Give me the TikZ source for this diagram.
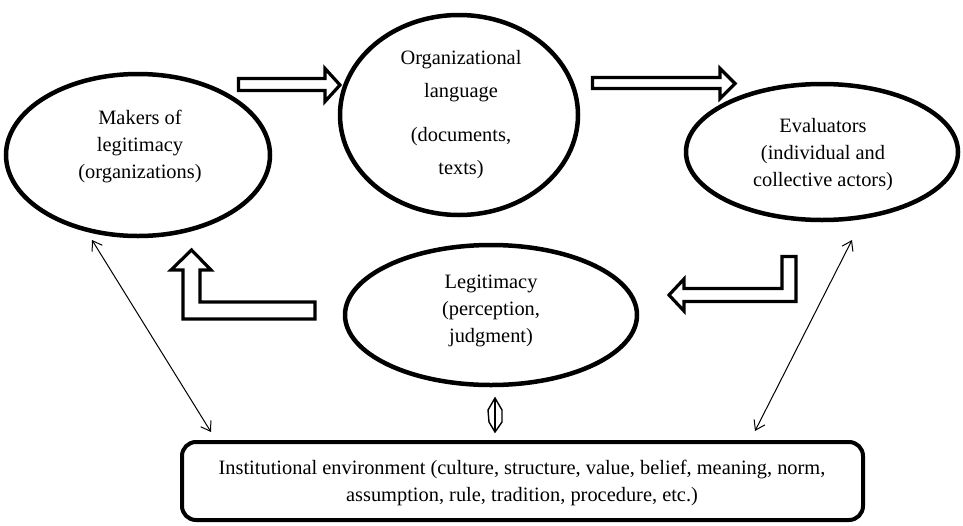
\documentclass[tikz,border=0pt]{standalone}
\usepackage{fontspec}
\setmainfont{Liberation Serif}
\usetikzlibrary{shapes.geometric,arrows.meta}
\begin{document}
\begin{tikzpicture}[x=1pt,y=-1pt,
  ell/.style={draw,ellipse,line width=4.5pt,inner sep=0pt},
  txt/.style={align=center,font=\fontsize{20.4}{27}\selectfont,inner sep=0pt},
  blockarrow/.style={draw,line width=3.2pt,fill=white,line join=miter},
  thinarrow/.style={line width=1pt,{Straight Barb[length=9pt,width=12pt]}-{Straight Barb[length=9pt,width=12pt]}}]
\useasboundingbox (0,0) rectangle (963,525);

% ellipses
\node[ell,minimum width=264,minimum height=162] (mk) at (138,155) {};
\node[txt] (mkt) at (140,147) {Makers of\\legitimacy\\(organizations)};

\node[ell,minimum width=238,minimum height=200] (ol) at (459,115) {};
\node[txt,font=\fontsize{20.4}{33}\selectfont] (olt) at (461,115) {Organizational\\language\\[11pt](documents,\\texts)};

\node[ell,minimum width=272,minimum height=136] (ev) at (822,152) {};
\node[txt] (evt) at (823,155) {Evaluators\\(individual and\\collective actors)};

\node[ell,minimum width=292,minimum height=140] (lg) at (491,315) {};
\node[txt] (lgt) at (491,311) {Legitimacy\\(perception,\\judgment)};

% institutional environment box
\node[draw,rounded corners=14pt,line width=4pt,minimum width=681,minimum height=78,inner sep=0pt] (env) at (522.5,481) {};
\node[txt] (envt) at (522,483) {Institutional environment (culture, structure, value, belief, meaning, norm,\\assumption, rule, tradition, procedure, etc.)};

% block arrows
\draw[blockarrow] (238.5,78.5) -- (325,78.5) -- (325,68.5) -- (340,85) -- (325,101.5) -- (325,90.5) -- (238.5,90.5) -- cycle;
\draw[blockarrow] (592.5,77.5) -- (720,77.5) -- (720,68.5) -- (735,83.5) -- (720,98.5) -- (720,88.5) -- (592.5,88.5) -- cycle;
\draw[blockarrow] (183,319) -- (315,319) -- (315,302) -- (200,302) -- (200,270) -- (211,270) -- (191.5,250) -- (171,270) -- (183,270) -- cycle;
\draw[blockarrow] (796,256.5) -- (796,301.5) -- (684,301.5) -- (684,311) -- (669,295) -- (684,279) -- (684,288.5) -- (782,288.5) -- (782,256.5) -- cycle;

% thin double arrows
\coordinate (a1) at (92,240);
\coordinate (a2) at (211,432);
\draw[thinarrow] (a1) -- (a2);
\coordinate (b1) at (852,240);
\coordinate (b2) at (755,431);
\draw[thinarrow] (b1) -- (b2);

% small double arrow between legitimacy and environment
\coordinate (c1) at (495,398);
\coordinate (c2) at (495,432);
\draw[line width=1.4pt,line join=miter] (c1) -- (488,410) -- (489,422) -- (c2) -- (502,422) -- (502,410) -- cycle;
\draw[line width=1.4pt] (c1) -- (c2);
\end{tikzpicture}
\end{document}
